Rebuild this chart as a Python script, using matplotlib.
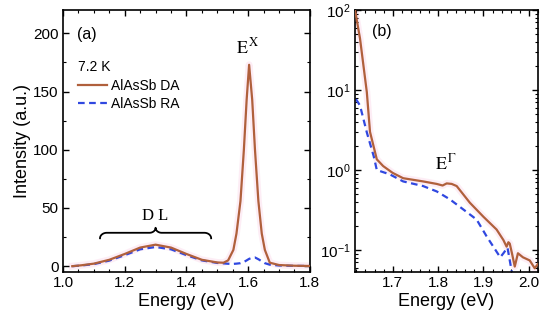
import numpy as np
import matplotlib.pyplot as plt
from matplotlib.ticker import MultipleLocator, LogLocator, NullFormatter

plt.rcParams['font.family'] = ['Liberation Sans', 'DejaVu Sans']
plt.rcParams['mathtext.fontset'] = 'stix'

# panel (a): PL spectra, linear scale
e_a = [1.03, 1.06, 1.10, 1.15, 1.20, 1.25, 1.30, 1.35, 1.40, 1.45, 1.50, 1.52,
       1.535, 1.552, 1.562, 1.575, 1.586, 1.595, 1.603, 1.613, 1.622, 1.633,
       1.644, 1.654, 1.67, 1.70, 1.75, 1.80]
da = [0.0, 0.8, 2.2, 5.5, 10.5, 16.0, 18.5, 16.0, 10.5, 5.5, 3.2, 3.0,
      5.0, 14.0, 28.0, 56.0, 100.0, 143.0, 173.0, 143.0, 100.0, 56.0,
      28.0, 14.0, 3.0, 1.0, 0.4, 0.2]
ra = [0.0, 0.6, 1.8, 4.8, 9.5, 14.5, 16.5, 14.5, 9.5, 5.0, 2.8, 2.4,
      2.1, 2.0, 2.2, 2.6, 3.6, 5.0, 6.3, 7.3, 7.5, 6.0,
      4.2, 2.6, 1.3, 0.6, 0.3, 0.2]

# panel (b): high-energy tail, log scale
e_b_da = [1.617, 1.628, 1.643, 1.650, 1.665, 1.679, 1.700, 1.723, 1.767, 1.797,
          1.810, 1.819, 1.830, 1.841, 1.870, 1.900, 1.929, 1.944, 1.951, 1.955,
          1.958, 1.963, 1.969, 1.976, 1.987, 2.002, 2.013, 2.022]
da_b = [100.0, 44.0, 9.4, 3.0, 1.36, 1.12, 0.92, 0.79, 0.72, 0.67,
        0.64, 0.68, 0.67, 0.63, 0.39, 0.26, 0.18, 0.133, 0.11, 0.125,
        0.12, 0.09, 0.062, 0.091, 0.081, 0.074, 0.059, 0.069]
e_b_ra = [1.619, 1.628, 1.643, 1.658, 1.665, 1.694, 1.723, 1.767, 1.797, 1.826,
          1.856, 1.885, 1.907, 1.937, 1.944, 1.953, 1.962, 1.968]
ra_b = [7.7, 6.4, 2.95, 1.5, 1.0, 0.88, 0.72, 0.63, 0.54, 0.43,
        0.32, 0.24, 0.148, 0.081, 0.091, 0.107, 0.055, 0.04]

c_da = '#b0603c'
c_ra = '#3048e0'

fig = plt.figure(figsize=(5.5, 3.25), dpi=100)
ax1 = fig.add_axes([0.1145, 0.163, 0.449, 0.806])
ax2 = fig.add_axes([0.6455, 0.163, 0.3325, 0.806])

# (a)
ax1.plot(e_a, da, color='#fbd9ea', lw=5, alpha=0.45, zorder=1)
ax1.plot(e_a, da, color=c_da, lw=1.6, label='AlAsSb DA', zorder=3)
ax1.plot(e_a, ra, color=c_ra, lw=1.6, ls=(0, (3, 2)), label='AlAsSb RA', zorder=2)
ax1.set_xlim(1.0, 1.8)
ax1.set_ylim(-5, 220)
ax1.xaxis.set_minor_locator(MultipleLocator(0.05))
ax1.yaxis.set_major_locator(MultipleLocator(50))
ax1.yaxis.set_minor_locator(MultipleLocator(25))
ax1.set_xticks([1.0, 1.2, 1.4, 1.6, 1.8])
ax1.set_xticklabels(['1.0', '1.2', '1.4', '1.6', '1.8'])
ax1.set_xlabel('Energy (eV)', fontsize=13, labelpad=2)
ax1.set_ylabel('Intensity (a.u.)', fontsize=13, labelpad=2)
ax1.legend(loc='upper left', bbox_to_anchor=(0.061, 0.737), frameon=False, fontsize=10,
           handlelength=2.1, handletextpad=0.25, labelspacing=0.3, borderpad=0,
           borderaxespad=0)
ax1.text(0.057, 0.905, '(a)', transform=ax1.transAxes, fontsize=11.5, va='center')
ax1.text(0.061, 0.782, '7.2 K', transform=ax1.transAxes, fontsize=10, va='center')
ax1.text(1.60, 188, r'$\mathrm{E}^{\,\mathrm{X}}$', fontsize=13, ha='center', va='center')
ax1.text(1.30, 43, 'D L', family='Liberation Serif', fontsize=12, ha='center', va='center')

# curly brace over the DL band
x0, x1, xm = 1.12, 1.48, 1.30
yb, yh, yc = 24, 28.7, 33
t = np.linspace(0, np.pi / 2, 20)
r_end = 0.022
bx = np.concatenate([x0 + r_end * (1 - np.cos(t)), [xm - 0.02],
                     xm - 0.02 + 0.02 * np.sin(t), xm + 0.02 - 0.02 * np.sin(t[::-1]),
                     [xm + 0.02], x1 - r_end * (1 - np.cos(t[::-1]))])
by = np.concatenate([yb + (yh - yb) * np.sin(t), [yh],
                     yh + (yc - yh) * (1 - np.cos(t)), yh + (yc - yh) * (1 - np.cos(t[::-1])),
                     [yh], yb + (yh - yb) * np.sin(t[::-1])])
ax1.plot(bx, by, color='black', lw=1.3)

# (b)
ax2.plot(e_b_da, da_b, color='#fbd9ea', lw=5, alpha=0.45, zorder=1)
ax2.plot(e_b_da, da_b, color=c_da, lw=1.6, zorder=3)
ax2.plot(e_b_ra, ra_b, color=c_ra, lw=1.6, ls=(0, (3, 2)), zorder=2)
ax2.set_yscale('log')
ax2.set_xlim(1.617, 2.02)
ax2.set_ylim(0.053, 100)
ax2.xaxis.set_minor_locator(MultipleLocator(0.02))
ax2.set_xticks([1.7, 1.8, 1.9, 2.0])
ax2.set_xticklabels(['1.7', '1.8', '1.9', '2.0'])
ax2.yaxis.set_major_locator(LogLocator(base=10, numticks=10))
ax2.yaxis.set_minor_locator(LogLocator(base=10, subs=np.arange(2, 10), numticks=10))
ax2.yaxis.set_minor_formatter(NullFormatter())
ax2.set_xlabel('Energy (eV)', fontsize=13, labelpad=2)
ax2.text(1.676, 54, '(b)', fontsize=11.5, ha='center', va='center')
ax2.text(1.817, 1.2, r'$\mathrm{E}^{\,\Gamma}$', fontsize=13, ha='center', va='center')

for ax in (ax1, ax2):
    ax.tick_params(which='both', direction='in', top=True, right=True, labelsize=11, pad=3)
    ax.tick_params(which='major', length=4, width=1)
    ax.tick_params(which='minor', length=2, width=0.8)
    for s in ax.spines.values():
        s.set_linewidth(1.2)

fig.savefig('out.png', dpi=100)
